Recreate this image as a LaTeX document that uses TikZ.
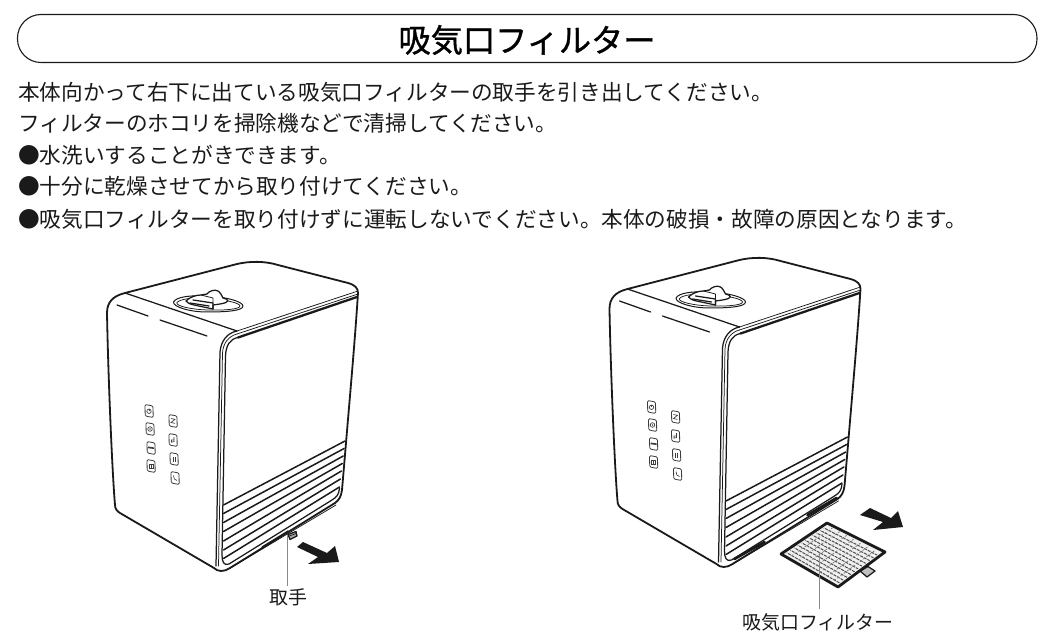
\documentclass[tikz,border=0pt]{standalone}
\usepackage{fontspec}
\setmainfont{Noto Sans CJK JP}
\newfontfamily\titlefont[FakeBold=1]{Noto Sans CJK JP}
\usetikzlibrary{calc}
\definecolor{ink}{HTML}{1A1A1A}
\definecolor{lead}{HTML}{8A8A8A}
\tikzset{
  outline/.style={draw=ink,line width=1.8pt,line join=round,line cap=round},
  medline/.style={draw=ink,line width=1.25pt,line join=round,line cap=round},
  grilleline/.style={draw=ink,line width=1.5pt,line cap=round},
  thinline/.style={draw=ink,line width=0.75pt,line join=round,line cap=round},
  leader/.style={draw=lead,line width=0.9pt},
  btnbox/.style={draw=ink!85,line width=0.8pt,rounded corners=1.3pt},
  btnmark/.style={draw=ink!85,line width=0.65pt},
  bodytext/.style={inner sep=0pt,anchor=west,font=\fontsize{21.65pt}{24pt}\selectfont,text=ink},
  labeltext/.style={inner sep=0pt,font=\fontsize{18.9pt}{22pt}\selectfont,text=ink},
  titletext/.style={inner sep=0pt,font=\titlefont\fontsize{32.2pt}{36pt}\selectfont,text=black},
  bigarrow/.style={fill=ink,draw=none},
}
\newcommand{\btnat}[3]{%
  \begin{scope}[shift={(#1,#2)}]
    \draw[btnbox] (-4,-6.5) -- (4,-5) -- (4.2,6.5) -- (-3.8,5) -- cycle;
    #3
  \end{scope}}
\newcommand{\humbody}{%
  % outer silhouette
  \draw[outline,fill=white] (115,505)
    .. controls (112,470) and (108,370) .. (107,313)
    .. controls (107,302) and (113,296) .. (125,293)
    -- (237,264) .. controls (250,261) and (265,261) .. (278,265)
    -- (348,283) .. controls (355,285) and (358,288) .. (358,293)
    .. controls (355,340) and (350,395) .. (346,443)
    -- (342,490) .. controls (341,497) and (339,500) .. (335,503)
    -- (230,568) .. controls (224,572) and (218,572) .. (214,568)
    -- (120,513) .. controls (117,511) and (115,509) .. cycle;
  % top panel front edge
  \draw[medline] (125,293) -- (237,331);
  % dashes on the front panel
  \draw[medline] (117,305) -- (148,316);
  \draw[medline] (160,320) -- (207,336);
  % seam along the side top
  \draw[thinline] (237,331) -- (358,291);
  \draw[thinline] (237,334) -- (358,294);
  \draw[draw=ink,line width=2.3pt,line cap=round] (238,337.5) -- (357,297);
  % vertical corner edge
  \draw[medline] (237,331) .. controls (227,333) and (221,341) .. (220,352) -- (216,566);
  \draw[thinline] (237,334) .. controls (229,336) and (223,343) .. (222.5,353) -- (218.5,566);
  \draw[medline] (238,337.5) .. controls (230,339) and (226,345) .. (225.5,356) -- (222,555)
     .. controls (222,562) and (224,566) .. (229,564)
     -- (332,500) .. controls (337,497) and (339,494) .. (339.5,488);
  % grille
  \foreach \ly/\ry in {505/441,513.5/448.5,522.5/456,531.5/463.5,541/471,550/479,558.5/487}{
    \draw[grilleline] (223.5,\ly) -- ({345-(\ry-441)*0.12},\ry);
  }
  % lower lip
  \draw[thinline] (232,567) -- (336,505);
  % knob
  \draw[thinline,line width=1pt] (173.5,302) .. controls (176,297) and (190,295) .. (207,296)
     .. controls (228,297) and (243,302) .. (243,306)
     .. controls (243,311) and (225,312) .. (207,312)
     .. controls (190,312) and (173,307) .. (173.5,302) -- cycle;
  \draw[thinline] (177,302.5) .. controls (180,299) and (192,297.5) .. (207,298.5)
     .. controls (225,299.5) and (240,303) .. (240,306)
     .. controls (240,309.5) and (222,310.5) .. (207,310)
     .. controls (192,309.5) and (175,306) .. (177,302.5) -- cycle;
  \draw[medline,fill=white] (186,301) .. controls (190,297) and (196,295) .. (201,295)
     -- (207,294) .. controls (209,291) and (215,289) .. (218,291)
     .. controls (220,292) and (222,296) .. (223,298)
     .. controls (228,299) and (232,302) .. (220,304)
     -- (213,305) -- (213,309) -- (194,305) .. controls (190,304) and (187,303) .. (186,301) -- cycle;
  \draw[medline] (193,300) -- (213,303) -- (213,309);
  \draw[medline] (190,303) -- (209,306);
  \draw[thinline] (201,295) -- (213,298) -- (213,303);
  % buttons
  \btnat{149}{411}{\draw[btnmark] (0,0.3) circle (2.2); \draw[btnmark] (0,-2.4) -- (0,0.3);}
  \btnat{150}{429}{\draw[btnmark] (0,0) circle (2.3); \fill[ink!75] (0,0) circle (0.8);}
  \btnat{151}{448}{\fill[ink!85] (-3,-1.5) -- (3,-0.6) -- (3,1) -- (-3,0.2) -- cycle;}
  \btnat{151}{466}{\draw[btnmark] (-2,-1.8) rectangle (2,2); \draw[btnmark] (0,-1.8) -- (0,2);}
  \btnat{173}{421}{\draw[btnmark] (-2,-2.5) -- (2,-1.7) -- (-2,1.5) -- (2,2.4);}
  \btnat{173}{440}{\draw[btnmark] (1,-3) -- (1,1.5) -- (-1.5,2.2) -- (-1.5,0) -- (1,-0.2);}
  \btnat{174}{459}{\draw[btnmark] (-1,-2.5) -- (-1,2.5); \draw[btnmark] (1.2,-2.2) -- (1.2,2.7);}
  \btnat{175}{478}{\draw[btnmark] (-1.5,-2.5) .. controls (-1.5,0.5) and (-0.5,2) .. (2,2.5);}
}
\begin{document}
\begin{tikzpicture}[x=1pt,y=-1pt]
\useasboundingbox (0,0) rectangle (1055,644);
\fill[white] (0,0) rectangle (1055,644);

% header
\draw[draw=ink,line width=1.1pt,rounded corners=23.5pt] (17.5,14.5) rectangle (1037,62.5);
\node[titletext] (title) at (527,40) {吸気口フィルター};

% body text
\node[bodytext] (line1) at (18,92) {本体向かって右下に出ている吸気口フィルターの取手を引き出してください。};
\node[bodytext] (line2) at (18,123.5) {フィルターのホコリを掃除機などで清掃してください。};
\node[bodytext] (line3) at (18,155) {●水洗いすることがきできます。};
\node[bodytext] (line4) at (18,186.5) {●十分に乾燥させてから取り付けてください。};
\node[bodytext] (line5) at (18,219) {●吸気口フィルターを取り付けずに運転しないでください。本体の破損・故障の原因となります。};

% left unit
\begin{scope}
  \humbody
  \draw[medline,fill=black!35] (288,534.5) -- (296,531.5) -- (297,536) -- (290,539.5) -- cycle;
  \draw[thinline] (288,536.5) -- (296,533.5);
  \draw[medline] (262,547) -- (288,531);
\end{scope}
\fill[bigarrow] (297,547) -- (303,542) -- (327,553) -- (335,546) -- (339,562) -- (308,564) -- (318,557) -- cycle;
\node[labeltext] (handlelabel) at (288,597) {取手};
\coordinate (handlepoint) at (287,535);
\draw[leader] (handlelabel.north -| handlepoint) ++(0,-2) -- (handlepoint);

% right unit
\begin{scope}[shift={(502.5,-4)}]
  \humbody
  \draw[draw=ink,line width=2.6pt,line cap=round] (232,563) -- (262,546);
  \draw[draw=ink,line width=2.6pt,line cap=round] (305,519) -- (334,502);
\end{scope}

% filter
\coordinate (fa) at (781,554);
\coordinate (fb) at (827,523);
\coordinate (fc) at (885,552);
\coordinate (fd) at (838,587);
\draw[medline,fill=black!25] (860,571) -- (868,566.5) -- (875,571) -- (867,577) -- cycle;
\draw[draw=ink,line width=2.8pt,line join=round,fill=black!6] (fa) -- (fb) -- (fc) -- (fd) -- cycle;
\begin{scope}
  \clip ($(fa)!0.04!(fc)$) -- ($(fb)!0.04!(fd)$) -- ($(fc)!0.04!(fa)$) -- ($(fd)!0.04!(fb)$) -- cycle;
  \foreach \t in {0.08,0.16,...,0.95}{
    \draw[draw=black!70,line width=1pt,dash pattern=on 3pt off 1pt] ($(fa)!\t!(fb)$) -- ($(fd)!\t!(fc)$);
  }
  \foreach \t in {0.125,0.25,...,0.95}{
    \draw[draw=black!50,line width=0.8pt,dash pattern=on 2pt off 2pt] ($(fa)!\t!(fd)$) -- ($(fb)!\t!(fc)$);
  }
\end{scope}
\fill[bigarrow] (860,515) -- (870,508) -- (891,518) -- (898,511) -- (903,527) -- (873,530) -- (883,522) -- cycle;
\node[labeltext] (filterlabel) at (818,622) {吸気口フィルター};
\coordinate (filterpoint) at (819,553);
\draw[leader] (filterlabel.north -| filterpoint) ++(0,-4) -- (filterpoint);
\end{tikzpicture}
\end{document}
